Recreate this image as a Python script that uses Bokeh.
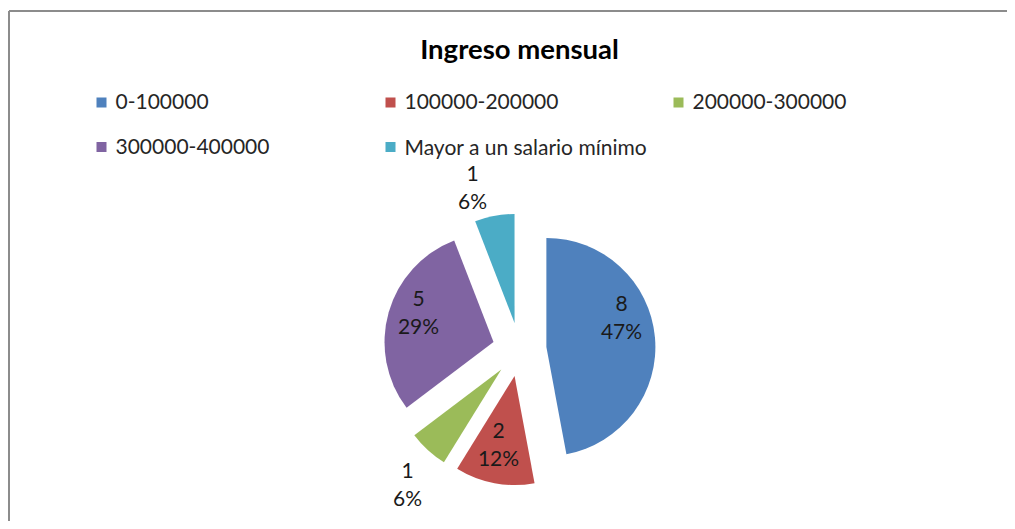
import math
from bokeh.plotting import figure
from bokeh.models import ColumnDataSource, Range1d
from bokeh.core.properties import value
from bokeh.embed import file_html
from bokeh.resources import INLINE

# ---- data ----
title = "Ingreso mensual"
categories = ["0-100000", "100000-200000", "200000-300000", "300000-400000", "Mayor a un salario mínimo"]
counts = [8, 2, 1, 5, 1]
colors = ["#4F81BD", "#C0504D", "#9BBB59", "#8064A2", "#4BACC6"]

# ---- layout (pixels, picture coordinates) ----
W, H = 1007, 521
def px(ix):
    return ix
def py(iy):
    return H - iy

CX, CY = px(519), py(349)
R = 109
EXPLODE = 27
# label centre offsets from pie centre (screen px, y down)
label_dx = [102, -21, -112, -101, -47]
label_dy = [-33, 94, 134, -38, -163]
legend_cols = [101, 390, 678]
legend_rows = [102, 146.5]
FONT = "Lato"

p = figure(width=W, height=H, output_backend="svg", toolbar_location=None,
           x_range=Range1d(0, W), y_range=Range1d(0, H),
           x_axis_location=None, y_axis_location=None, min_border=0,
           outline_line_color=None, background_fill_color="white",
           border_fill_color="white")
p.grid.visible = False

# chart-area border (top & left visible)
p.segment(x0=[px(8.5), px(8.5)], y0=[py(10.5), py(10.5)],
          x1=[W + 5, px(8.5)], y1=[py(10.5), -5],
          line_color="#8c8c8c", line_width=2)

total = sum(counts)
starts, ends, xs, ys = [], [], [], []
cum = 0.0
for c in counts:
    a0 = math.pi / 2 - 2 * math.pi * cum / total
    cum += c
    a1 = math.pi / 2 - 2 * math.pi * cum / total
    mid = (a0 + a1) / 2
    starts.append(a0)
    ends.append(a1)
    xs.append(CX + EXPLODE * math.cos(mid))
    ys.append(CY + EXPLODE * math.sin(mid))

src = ColumnDataSource(dict(x=xs, y=ys, start=starts, end=ends, color=colors))
p.wedge(x="x", y="y", radius=R, start_angle="start", end_angle="end",
        direction="clock", fill_color="color", line_color=None, source=src)

labels = [f"{c}\n{round(100 * c / total)}%" for c in counts]
lsrc = ColumnDataSource(dict(
    x=[CX + dx for dx in label_dx],
    y=[CY - dy for dy in label_dy],
    t=labels))
p.text(x="x", y="y", text="t", source=lsrc, text_align="center",
       text_baseline="middle", text_font=value(FONT), text_font_size="21px",
       text_color="#1a1a1a", text_line_height=1.12)

# legend
sx, sy, tx, ty = [], [], [], []
for i, cat in enumerate(categories):
    col = i % 3
    row = i // 3
    sx.append(px(legend_cols[col]))
    sy.append(py(legend_rows[row]))
    tx.append(px(legend_cols[col] + 14))
    ty.append(py(legend_rows[row] - 1))
p.scatter(x=sx, y=sy, marker="square", size=10, fill_color=colors, line_color=None)
p.text(x=tx, y=ty, text=categories, text_align="left", text_baseline="middle",
       text_font=value(FONT), text_font_size="21px", text_color="#262626")

# title
p.text(x=[px(519)], y=[py(48)], text=[title], text_align="center",
       text_baseline="middle", text_font=value(FONT), text_font_size="27.5px",
       text_font_style="bold", text_color="#000000")

open("out.html", "w").write(file_html(p, INLINE))
